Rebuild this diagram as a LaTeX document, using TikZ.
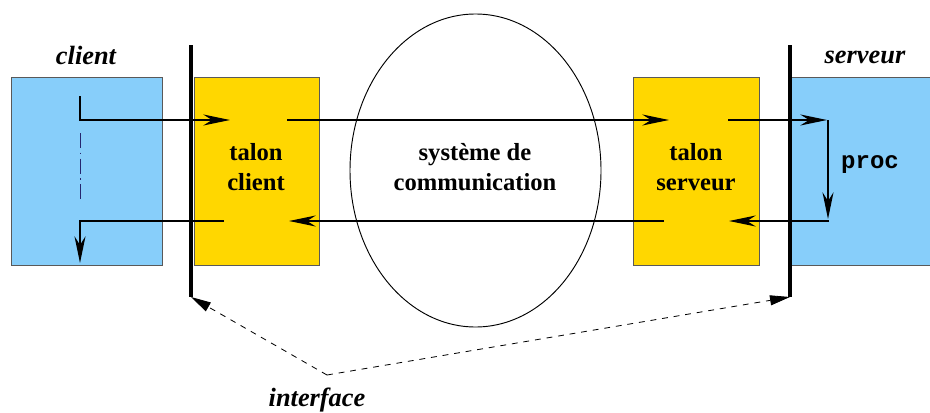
\documentclass[tikz,border=0pt]{standalone}
\usepackage{fontspec}
\setmainfont{Liberation Serif}
\setmonofont{Liberation Mono}
\usetikzlibrary{arrows.meta,shapes.geometric}

\definecolor{bleuproc}{RGB}{135,206,250}
\definecolor{jaunetalon}{RGB}{255,215,0}

\tikzset{
  bloc/.style={draw=black!65, line width=0.6pt, minimum width=#1,
    minimum height=56.4mm, inner sep=0pt},
  texte/.style={font=\fontsize{21}{26}\selectfont\bfseries, align=center},
  titre/.style={font=\fontsize{22.5}{27}\selectfont\bfseries\itshape},
  fleche/.style={line width=1.6pt, -{Stealth[length=8mm, width=3.3mm, inset=2.6mm]}},
  pointille/.style={line width=0.7pt, dash pattern=on 5pt off 5pt,
    -{Triangle[length=6mm, width=3mm]}},
  interface/.style={line width=3.4pt},
}

\begin{document}
\begin{tikzpicture}[x=0.3mm, y=-0.3mm]
    \useasboundingbox (0,0) rectangle (930,412);
    % les quatre blocs
    \node[bloc=45.3mm, fill=bleuproc] (client) at (86.5,171) {};
    \node[bloc=37.5mm, fill=jaunetalon] (talonc) at (256.5,171) {};
    \node[bloc=37.8mm, fill=jaunetalon] (talons) at (696,171) {};
    \node[bloc=45mm, fill=bleuproc] (serveur) at (865,171) {};
    \node[texte] (ttc) at (256,167) {talon\\client};
    \node[texte] (tts) at (696,167) {talon\\serveur};
    % systeme de communication
    \node[draw, ellipse, line width=0.8pt, minimum width=75.3mm, minimum height=93.9mm,
      inner sep=0pt] (sys) at (475.5,170.5) {};
    \node[texte] (tsys) at (475,167) {système de\\communication};
    % les deux interfaces
    \coordinate (ihg) at (191,45);
    \coordinate (ibg) at (191,297);
    \coordinate (ihd) at (790,45);
    \coordinate (ibd) at (790,297);
    \draw[interface] (ihg) -- (ibg);
    \draw[interface] (ihd) -- (ibd);
    \node[titre] (lclient) at (86,55) {client};
    \node[titre] (lserveur) at (865,57) {serveur};
    % appel
    \coordinate (a0) at (80,96);
    \coordinate (a1) at (80,120);
    \coordinate (a2) at (230,120);
    \coordinate (b0) at (287,120);
    \coordinate (b1) at (669,120);
    \coordinate (c0) at (728,120);
    \coordinate (c1) at (827,120);
    \coordinate (c2) at (828,120);
    \coordinate (c3) at (828,219);
    \draw[fleche] (a0) -- (a1) -- (a2);
    \draw[fleche] (b0) -- (b1);
    \draw[fleche] (c0) -- (c1);
    \draw[fleche] (c2) -- (c3);
    \node[font=\fontsize{20.5}{24}\selectfont\ttfamily\bfseries] (proc) at (870,165) {proc};
    % retour
    \coordinate (d0) at (829,221);
    \coordinate (d1) at (729,221);
    \coordinate (e0) at (664,221);
    \coordinate (e1) at (289,221);
    \coordinate (f0) at (224,221);
    \coordinate (f1) at (80,221);
    \coordinate (f2) at (80,263);
    \draw[fleche] (d0) -- (d1);
    \draw[fleche] (e0) -- (e1);
    \draw[fleche] (f0) -- (f1) -- (f2);
    \coordinate (g0) at (80,133);
    \coordinate (g1) at (80,203);
    \draw[black!60!blue!70!gray, line width=0.8pt,
      dash pattern=on 4.5mm off 1.4mm on 0.4mm off 1.4mm] (g0) -- (g1);
    % interface
    \coordinate (ifc) at (327,375);
    \draw[pointille] (ifc) -- (ibg);
    \draw[pointille] (ifc) -- (ibd);
    \node[titre] (linterface) at (317,400) {interface};
\end{tikzpicture}
\end{document}
